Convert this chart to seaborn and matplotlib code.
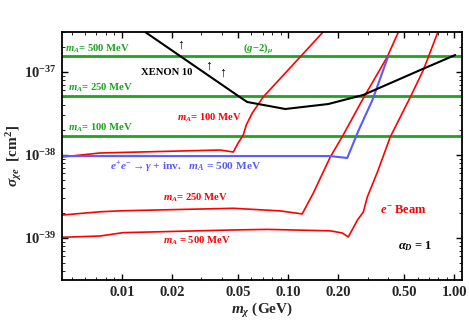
import numpy as np
import pandas as pd
import matplotlib
matplotlib.use("Agg")
import matplotlib.pyplot as plt
import matplotlib.ticker as mticker
import seaborn as sns

# ---------------- data ----------------
g2_levels = [1.56e-37, 5.14e-38, 1.69e-38]          # (g-2)_mu, mA = 500, 250, 100 MeV
g2_labels = ["500", "250", "100"]

xenon_m = [0.01376, 0.0500, 0.0566, 0.0959, 0.174, 0.283, 0.624, 1.01]
xenon_s = [3.03e-37, 5.14e-38, 4.35e-38, 3.58e-38, 4.11e-38, 5.29e-38, 1.057e-37, 1.60e-37]

beam100_m = [0.00435, 0.00737, 0.0389, 0.0467, 0.0500, 0.0536, 0.0559, 0.0607, 0.0707, 0.118, 0.160, 0.175]
beam100_s = [9.46e-39, 1.057e-38, 1.148e-38, 1.086e-38, 1.40e-38, 1.74e-38, 2.30e-38, 3.20e-38, 5.0e-38, 1.52e-37, 2.95e-37, 3.6e-37]

beam250_m = [0.00435, 0.00737, 0.01014, 0.0467, 0.0895, 0.1213, 0.1415, 0.179, 0.214, 0.279, 0.394, 0.460, 0.48]
beam250_s = [1.89e-39, 2.07e-39, 2.13e-39, 2.28e-39, 2.12e-39, 1.95e-39, 3.48e-39, 9.46e-39, 1.74e-38, 4.60e-38, 1.52e-37, 3.03e-37, 3.6e-37]

beam500_m = [0.00435, 0.00737, 0.01014, 0.0467, 0.0747, 0.179, 0.211, 0.2298, 0.261, 0.283, 0.299, 0.344, 0.411, 0.543, 0.650, 0.791, 0.82]
beam500_s = [1.02e-39, 1.057e-39, 1.16e-39, 1.25e-39, 1.27e-39, 1.22e-39, 1.15e-39, 1.03e-39, 1.65e-39, 2.06e-39, 3.12e-39, 6.24e-39, 1.65e-38, 5.0e-38, 1.057e-37, 2.95e-37, 3.5e-37]

mono_m = [0.00435, 0.179, 0.2264, 0.264, 0.321, 0.400]
mono_s = [9.7e-39, 9.7e-39, 9.2e-39, 1.95e-38, 4.6e-38, 1.56e-37]

x_ticks = [0.01, 0.02, 0.05, 0.10, 0.20, 0.50, 1.00]
x_ticklabels = ["0.01", "0.02", "0.05", "0.10", "0.20", "0.50", "1.00"]
y_ticks = [1e-39, 1e-38, 1e-37]
y_ticklabels = [r"$\mathbf{10^{-39}}$", r"$\mathbf{10^{-38}}$", r"$\mathbf{10^{-37}}$"]

# ---------------- style ----------------
sns.set_theme(style="ticks")
plt.rcParams["font.family"] = ["Liberation Serif", "DejaVu Serif"]
plt.rcParams["font.weight"] = "bold"
plt.rcParams["mathtext.fontset"] = "custom"
plt.rcParams["mathtext.rm"] = "Liberation Serif:bold"
plt.rcParams["mathtext.it"] = "Liberation Serif:italic:bold"
plt.rcParams["mathtext.bf"] = "Liberation Serif:bold"
plt.rcParams["mathtext.fallback"] = "stix"

GREEN = "#1ea51e"
RED = "#ff0000"
BLUE = "#5a5aff"

fig = plt.figure(figsize=(4.69, 3.21), dpi=100)
ax = fig.add_axes([62/469, 1-280/321, 400/469, 248/321])

def curve(m, s, color, lw):
    df = pd.DataFrame({"m": m, "s": s})
    sns.lineplot(data=df, x="m", y="s", ax=ax, sort=False, estimator=None,
                 color=color, lw=lw, legend=False)

for lvl in g2_levels:
    ax.axhline(lvl, color=GREEN, lw=2.0, zorder=2)

curve(beam100_m, beam100_s, RED, 1.2)
curve(beam250_m, beam250_s, RED, 1.2)
curve(beam500_m, beam500_s, RED, 1.2)
curve(mono_m, mono_s, BLUE, 1.5)
curve(xenon_m, xenon_s, "black", 1.5)

ax.set_xscale("log")
ax.set_yscale("log")
ax.set_xlim(0.00435, 1.11)
ax.set_ylim(3.12e-40, 3.03e-37)

ax.xaxis.set_major_locator(mticker.FixedLocator(x_ticks))
ax.xaxis.set_major_formatter(mticker.FixedFormatter(x_ticklabels))
ax.xaxis.set_minor_locator(mticker.LogLocator(base=10, subs=np.arange(2, 10), numticks=20))
ax.xaxis.set_minor_formatter(mticker.NullFormatter())
ax.yaxis.set_major_locator(mticker.FixedLocator(y_ticks))
ax.yaxis.set_major_formatter(mticker.FixedFormatter(y_ticklabels))
ax.yaxis.set_minor_locator(mticker.LogLocator(base=10, subs=np.arange(2, 10), numticks=20))
ax.yaxis.set_minor_formatter(mticker.NullFormatter())

ax.tick_params(which="both", direction="in", top=True, right=True, color="black")
ax.tick_params(which="major", length=4, width=1.0, labelsize=10.5, pad=4)
ax.tick_params(which="minor", length=2, width=0.6)
for sp in ax.spines.values():
    sp.set_linewidth(1.3)
    sp.set_color("black")

ax.set_xlabel(r"$m_\chi$ (GeV)", fontsize=11, fontweight="bold", labelpad=2)
ax.set_ylabel(r"$\sigma_{\chi e}$  [cm$^2$]", fontsize=11, fontweight="bold", labelpad=0)
ax.yaxis.set_label_coords(-0.095, 0.5)

fs = 7.7
def t(fx, fy, s, color, size=fs):
    ax.text(fx, fy, s, transform=ax.transAxes, color=color, fontsize=size,
            fontweight="bold", ha="left", va="center")

for (fy, lab) in zip([0.931, 0.774, 0.613], g2_labels):
    t(0.0075 if lab == "500" else 0.015, fy, r"$m_A$= " + lab + " MeV", GREEN)
t(0.4525, 0.935, r"$(g\!-\!2)_\mu$", GREEN)
t(0.1975, 0.835, "XENON 10", "black")
for (fx, fy) in [(0.287, 0.948), (0.358, 0.863), (0.393, 0.835)]:
    t(fx, fy, "↑", "black", 10)
t(0.2875, 0.653, r"$m_A$= 100 MeV", RED)
t(0.12, 0.456, r"$e^{+}e^{-}\rightarrow\gamma$ + inv.   $m_A$ = 500 MeV", BLUE, 8.2)
t(0.2525, 0.331, r"$m_A$= 250 MeV", RED)
t(0.2525, 0.157, r"$m_A$ = 500 MeV", RED)
t(0.795, 0.282, r"$e^{-}$ Beam", RED, 9)
t(0.84, 0.137, r"$\alpha_D$ = 1", "black", 9)

fig.savefig("out.png", dpi=100)
